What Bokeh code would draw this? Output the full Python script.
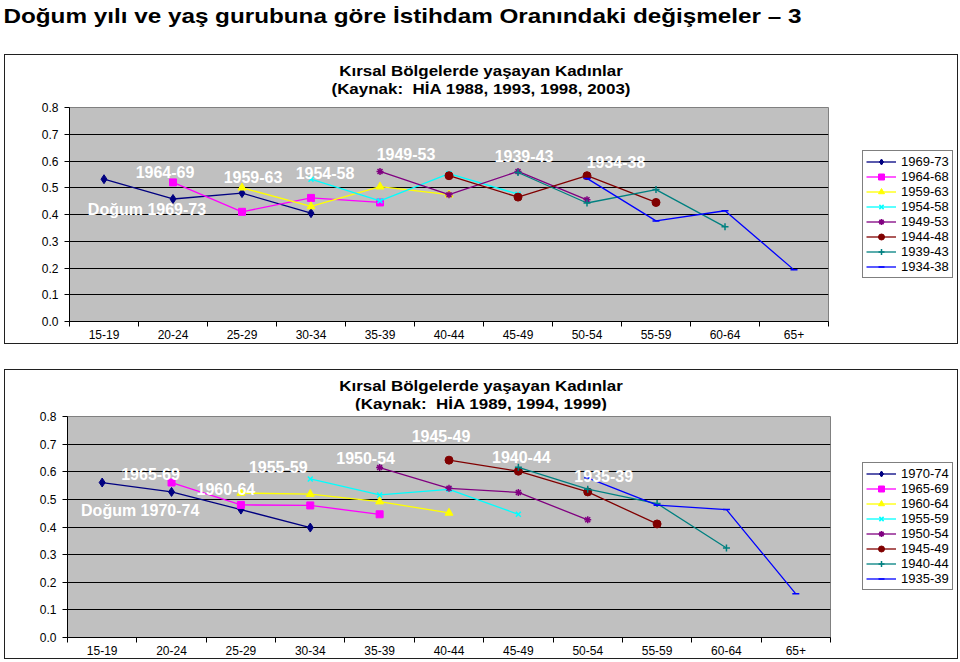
from bokeh.plotting import figure
from bokeh.models import (ColumnDataSource, Range1d, FixedTicker,
                          PrintfTickFormatter, Legend, LegendItem, Label, Div, Spacer)
from bokeh.layouts import column, row
from bokeh.embed import file_html
from bokeh.resources import INLINE

# ---------------- data ----------------
ages = ["15-19", "20-24", "25-29", "30-34", "35-39", "40-44", "45-49", "50-54", "55-59", "60-64", "65+"]
N = None

top_series = ["1969-73", "1964-68", "1959-63", "1954-58", "1949-53", "1944-48", "1939-43", "1934-38"]
top_1969_73 = [0.532, 0.458, 0.480, 0.405, N, N, N, N, N, N, N]
top_1964_68 = [N, 0.520, 0.410, 0.462, 0.445, N, N, N, N, N, N]
top_1959_63 = [N, N, 0.500, 0.430, 0.504, 0.474, N, N, N, N, N]
top_1954_58 = [N, N, N, 0.532, 0.451, 0.553, 0.476, N, N, N, N]
top_1949_53 = [N, N, N, N, 0.561, 0.474, 0.561, 0.455, N, N, N]
top_1944_48 = [N, N, N, N, N, 0.545, 0.465, 0.545, 0.445, N, N]
top_1939_43 = [N, N, N, N, N, N, 0.557, 0.443, 0.493, 0.354, N]
top_1934_38 = [N, N, N, N, N, N, N, 0.535, 0.376, 0.414, 0.193]

bot_series = ["1970-74", "1965-69", "1960-64", "1955-59", "1950-54", "1945-49", "1940-44", "1935-39"]
bot_1970_74 = [0.561, 0.527, 0.463, 0.398, N, N, N, N, N, N, N]
bot_1965_69 = [N, 0.561, 0.480, 0.478, 0.446, N, N, N, N, N, N]
bot_1960_64 = [N, N, 0.523, 0.519, 0.492, 0.451, N, N, N, N, N]
bot_1955_59 = [N, N, N, 0.574, 0.516, 0.536, 0.446, N, N, N, N]
bot_1950_54 = [N, N, N, N, 0.615, 0.540, 0.525, 0.426, N, N, N]
bot_1945_49 = [N, N, N, N, N, 0.642, 0.602, 0.527, 0.411, N, N]
bot_1940_44 = [N, N, N, N, N, N, 0.616, 0.537, 0.485, 0.324, N]
bot_1935_39 = [N, N, N, N, N, N, N, 0.578, 0.479, 0.463, 0.158]

y_ticks = [0.0, 0.1, 0.2, 0.3, 0.4, 0.5, 0.6, 0.7, 0.8]
grid_ticks = [0.1, 0.2, 0.3, 0.4, 0.5, 0.6, 0.7]

main_title = "Doğum yılı ve yaş gurubuna göre İstihdam Oranındaki değişmeler – 3"
top_title = ["Kırsal Bölgelerde yaşayan Kadınlar", "(Kaynak:&nbsp; HİA 1988, 1993, 1998, 2003)"]
bot_title = ["Kırsal Bölgelerde yaşayan Kadınlar", "(Kaynak:&nbsp; HİA 1989, 1994, 1999)"]

# in-plot cohort labels: text, anchor category, anchor value
top_labels = ["1964-69", "1959-63", "1954-58", "1949-53", "1939-43", "1934-38", "Doğum 1969-73"]
top_label_cats = ["20-24", "25-29", "30-34", "35-39", "45-49", "50-54", "15-19"]
top_label_vals = [0.560, 0.542, 0.555, 0.628, 0.619, 0.598, 0.418]
bot_labels = ["1965-69", "1960-64", "1955-59", "1950-54", "1945-49", "1940-44", "1935-39", "Doğum 1970-74"]
bot_label_cats = ["20-24", "25-29", "30-34", "35-39", "40-44", "45-49", "50-54", "15-19"]
bot_label_vals = [0.591, 0.539, 0.618, 0.648, 0.729, 0.652, 0.585, 0.458]

# ---------------- styles ----------------
colors = ["#000080", "#FF00FF", "#FFFF00", "#00FFFF", "#800080", "#800000", "#008080", "#0000FF"]
markers = ["diamond", "square", "triangle", "x", "asterisk", "circle", "cross", "dash"]
msizes = [9, 7, 8, 7, 7, 8, 7, 7]
FONT = "Liberation Sans"

# category slot positions on the x scale (slot i spans i..i+1)
cat_pos = {a: i + 0.5 for i, a in enumerate(ages)}


def line_style(m):
    return 1.5 if m in ("x", "asterisk", "cross", "dash") else 1


def make_chart(names, values, lab_text, lab_cat, lab_val, lab_dx, titles, geo, leg_loc):
    fig_w, fig_h, b_left, b_top, b_bottom, div_h, pad_top = geo
    p = figure(width=fig_w, height=fig_h, x_range=Range1d(0, len(ages)), y_range=Range1d(0, 0.8),
               output_backend="svg", toolbar_location=None,
               min_border_left=b_left, min_border_right=2,
               min_border_top=b_top, min_border_bottom=b_bottom)
    p.background_fill_color = "#C0C0C0"
    p.border_fill_color = "white"
    p.outline_line_color = "#808080"

    # category axis: labels centred in slots, tick marks on slot boundaries
    p.xaxis.ticker = FixedTicker(ticks=[cat_pos[a] for a in ages],
                                 minor_ticks=list(range(len(ages) + 1)))
    p.xaxis.major_label_overrides = {cat_pos[a]: a for a in ages}
    p.xaxis.major_tick_line_color = None
    p.xaxis.major_tick_out = 0
    p.xaxis.major_tick_in = 0
    p.xaxis.minor_tick_line_color = "black"
    p.xaxis.minor_tick_out = 5
    p.xaxis.minor_tick_in = 0
    p.xaxis.axis_line_color = "black"
    p.xaxis.major_label_text_font = FONT
    p.xaxis.major_label_text_font_size = "12px"
    p.xaxis.major_label_text_color = "black"
    p.xaxis.major_label_standoff = 3

    p.yaxis.ticker = FixedTicker(ticks=y_ticks)
    p.yaxis.formatter = PrintfTickFormatter(format="%.1f")
    p.yaxis.major_tick_out = 5
    p.yaxis.major_tick_in = 0
    p.yaxis.minor_tick_line_color = None
    p.yaxis.axis_line_color = "black"
    p.yaxis.major_label_text_font = FONT
    p.yaxis.major_label_text_font_size = "12px"
    p.yaxis.major_label_text_color = "black"
    p.yaxis.major_label_standoff = 6

    p.xgrid.visible = False
    p.ygrid.ticker = FixedTicker(ticks=grid_ticks)
    p.ygrid.grid_line_color = "black"
    p.ygrid.grid_line_width = 1

    # legend lives in its own small panel to the right of the plot; its key renderers
    # share the series data but look at an empty region, so only the legend shows
    pl = figure(width=952 - fig_w, height=fig_h, x_range=Range1d(100, 101), y_range=Range1d(100, 101),
                output_backend="svg", toolbar_location=None, x_axis_type=None, y_axis_type=None,
                min_border_left=0, min_border_right=0, min_border_top=0, min_border_bottom=0)
    pl.outline_line_color = None
    pl.background_fill_color = "white"
    pl.border_fill_color = "white"
    pl.xgrid.visible = False
    pl.ygrid.visible = False

    items = []
    for name, vals, c, m, ms in zip(names, values, colors, markers, msizes):
        xs = [cat_pos[a] for a, v in zip(ages, vals) if v is not None]
        ys = [v for v in vals if v is not None]
        src = ColumnDataSource(dict(x=xs, y=ys))
        p.line("x", "y", source=src, line_color=c, line_width=1.3)
        p.scatter("x", "y", source=src, marker=m, size=ms, fill_color=c, line_color=c,
                  line_width=line_style(m))
        lr = pl.line("x", "y", source=src, line_color=c, line_width=1.3)
        sr = pl.scatter("x", "y", source=src, marker=m, size=ms, fill_color=c, line_color=c,
                        line_width=line_style(m))
        items.append(LegendItem(label=name, renderers=[lr, sr]))

    leg = Legend(items=items, location=leg_loc, border_line_color="black", border_line_width=1,
                 background_fill_color="white", background_fill_alpha=1.0,
                 label_text_font=FONT, label_text_font_size="13px", label_text_color="black",
                 glyph_width=30, glyph_height=15, label_height=15, label_standoff=5,
                 spacing=0, padding=3, margin=0)
    pl.add_layout(leg)

    for t, cat, v, dx in zip(lab_text, lab_cat, lab_val, lab_dx):
        p.add_layout(Label(x=cat_pos[cat], y=v, x_offset=dx, text=t,
                           text_align="center", text_baseline="middle",
                           text_color="white", text_font=FONT, text_font_style="bold",
                           text_font_size="16px"))

    head = Div(text=('<div style="width:952px;text-align:center;font-family:\'Liberation Sans\',Arial,sans-serif;'
                     'font-weight:bold;font-size:15px;line-height:17.5px;padding-top:%dpx;color:black;'
                     'white-space:nowrap;transform:scaleX(1.13);transform-origin:476px 0;">'
                     '<div>%s</div><div>%s</div></div>') % (pad_top, titles[0], titles[1]),
               width=952, height=div_h, margin=(0, 0, 0, 0))
    box = column(head, row(p, pl, spacing=0), spacing=0,
                 styles={"border": "1px solid #202020", "background-color": "white"})
    return box


box1 = make_chart(top_series,
                  [top_1969_73, top_1964_68, top_1959_63, top_1954_58, top_1949_53, top_1944_48, top_1939_43, top_1934_38],
                  top_labels, top_label_cats, top_label_vals, [-8, 11, 14, 26, 6, 29, 43],
                  top_title, (825, 244, 64, 8, 22, 44, 7), (32, 43))

box2 = make_chart(bot_series,
                  [bot_1970_74, bot_1965_69, bot_1960_64, bot_1955_59, bot_1950_54, bot_1945_49, bot_1940_44, bot_1935_39],
                  bot_labels, bot_label_cats, bot_label_vals, [-21, -15, -32, -14, -8, 3, 16, 38],
                  bot_title, (827, 248, 62, 6, 21, 40, 7), (30, 47))

title_div = Div(text=('<div style="font-family:\'Liberation Sans\',Arial,sans-serif;font-weight:bold;'
                      'font-size:21px;line-height:23px;padding:4px 0 0 3px;white-space:nowrap;color:black;'
                      'transform:scaleX(1.155);transform-origin:0 0;">'
                      + main_title + '</div>'), width=960, height=54, margin=(0, 0, 0, 0))

layout = column(title_div,
                row(Spacer(width=4, height=290), box1),
                Spacer(width=960, height=25),
                row(Spacer(width=4, height=290), box2))

with open("out.html", "w", encoding="utf-8") as f:
    f.write(file_html(layout, INLINE, title="chart"))
